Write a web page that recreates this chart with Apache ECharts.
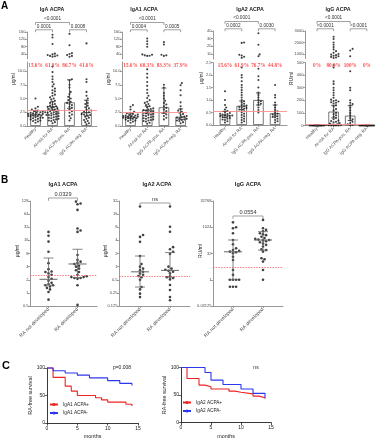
<!DOCTYPE html>
<html><head><meta charset="utf-8">
<script src="https://cdn.jsdelivr.net/npm/echarts@6.0.0/dist/echarts.min.js"></script>
<style>html,body{margin:0;padding:0;background:#fff}#chart{width:379px;height:440px}</style>
</head><body><div id="chart"></div>
<script>
// ================= DATA =================
const catsA = ['Healthy', 'At-risk for RA', 'IgG ACPA-pos. RA', 'IgG ACPA-neg. RA'];
const catsB = ['RA not developed', 'RA developed'];
const pairsA = [[0, 1, 1], [0, 2, 2], [2, 3, 1]]; // compared groups + bracket level

// Panel A – IgA ACPA (µg/ml)
const igaHealthy = [5.0, 3.5, 3.2, 3.0, 2.8, 2.7, 2.6, 2.5, 2.4, 2.4, 2.3, 2.2, 2.2, 2.1, 2.0, 2.0, 1.9, 1.9, 1.8, 1.8, 1.7, 1.6, 1.5, 1.5, 1.4, 1.3, 1.2, 1.1, 1.0, 0.9, 0.8, 0.6];
const igaAtRisk = [145, 130, 95, 42, 38, 35, 32, 30, 28, 25, 10.8, 9.8, 9.0, 8.5, 8.0, 7.6, 7.2, 6.8, 6.5, 6.3, 6.0, 5.7, 5.5, 5.2, 5.0, 4.8, 4.6, 4.4, 4.2, 4.0, 3.9, 3.7, 3.6, 3.5, 3.4, 3.3, 3.2, 3.1, 3.0, 2.9, 2.8, 2.7, 2.6, 2.5, 2.5, 2.4, 2.3, 2.3, 2.2, 2.1, 2.0, 2.0, 1.9, 1.8, 1.7, 1.6, 1.5, 1.4, 1.3, 1.2, 1.1, 1.0, 0.9, 0.7, 0.5];
const igaPos = [150, 88, 45, 40, 35, 30, 25, 8.5, 8.3, 7.5, 7.0, 6.2, 5.8, 5.3, 5.0, 4.7, 4.4, 4.2, 4.0, 3.8, 3.5, 3.3, 3.0, 2.7, 2.4, 2.1, 1.8, 1.4, 1.0];
const igaNeg = [98, 8.5, 8.0, 6.2, 5.5, 5.0, 4.6, 4.2, 4.0, 3.7, 3.4, 3.2, 3.0, 2.8, 2.6, 2.5, 2.4, 2.2, 2.1, 2.0, 1.9, 1.7, 1.5, 1.3, 1.1, 0.9, 0.7, 0.5, 0.3];
const igaBar = [2.2, 3.6, 4.3, 2.5];
const igaErrLow = [1.8, 2.9, 3.2, 1.8];
const igaErrHigh = [2.7, 4.4, 8.4, 4.7];
const igaPct = ['15.6%', '61.9%', '86.7%', '41.6%'];
const igaP = ['0.0001', '<0.0001', '0.0008'];
const igaCutoff = 2.9;

// Panel A – IgA1 ACPA (µg/ml)
const iga1Healthy = [3.8, 3.5, 3.0, 2.6, 2.4, 2.3, 2.2, 2.1, 2.0, 1.9, 1.9, 1.8, 1.8, 1.7, 1.7, 1.6, 1.6, 1.5, 1.5, 1.4, 1.4, 1.3, 1.2, 1.1, 1.0, 0.9, 0.8, 0.6];
const iga1AtRisk = [125, 110, 95, 80, 38, 36, 33, 31, 30, 10.3, 9.5, 8.8, 8.0, 7.3, 6.6, 6.0, 5.5, 5.1, 4.7, 4.4, 4.2, 4.0, 3.8, 3.6, 3.4, 3.2, 3.1, 3.0, 2.9, 2.8, 2.7, 2.6, 2.5, 2.4, 2.3, 2.2, 2.1, 2.0, 1.9, 1.8, 1.7, 1.6, 1.5, 1.4, 1.3, 1.2, 1.1, 1.0, 0.9, 0.8, 0.6, 0.4];
const iga1Pos = [105, 92, 36, 33, 30, 7.5, 7.0, 6.0, 5.5, 5.0, 4.6, 4.2, 3.9, 3.6, 3.3, 3.0, 2.7, 2.4, 2.1, 1.8, 1.5, 1.2];
const iga1Neg = [7.8, 7.4, 6.5, 5.6, 4.3, 3.6, 3.1, 2.8, 2.6, 2.4, 2.2, 2.0, 1.8, 1.7, 1.6, 1.5, 1.4, 1.3, 1.2, 1.1, 1.0, 0.9, 0.7, 0.5];
const iga1Bar = [1.7, 2.9, 3.4, 1.7];
const iga1ErrLow = [1.4, 2.3, 2.3, 1.2];
const iga1ErrHigh = [2.2, 3.6, 6.9, 3.1];
const iga1Pct = ['15.6%', '60.3%', '83.3%', '37.9%'];
const iga1P = ['0.0004', '<0.0001', '0.0005'];
const iga1Cutoff = 2.5;

// Panel A – IgA2 ACPA (µg/ml)
const iga2Healthy = [1.35, 1.0, 0.8, 0.7, 0.62, 0.56, 0.52, 0.48, 0.45, 0.44, 0.42, 0.4, 0.38, 0.37, 0.36, 0.34, 0.32, 0.3, 0.28, 0.25, 0.22, 0.2, 0.15, 0.1];
const iga2AtRisk = [25, 24.5, 9, 8, 6.5, 5, 2.3, 2.0, 1.9, 1.75, 1.6, 1.5, 1.4, 1.3, 1.2, 1.1, 1.0, 0.95, 0.9, 0.85, 0.8, 0.78, 0.75, 0.72, 0.7, 0.68, 0.65, 0.62, 0.6, 0.55, 0.5, 0.45, 0.4, 0.35, 0.3, 0.25, 0.2, 0.15, 0.1];
const iga2Pos = [37, 22, 9.5, 7, 2.25, 1.95, 1.8, 1.5, 1.3, 1.2, 1.1, 1.0, 0.95, 0.9, 0.85, 0.8, 0.7, 0.6, 0.5];
const iga2Neg = [1.6, 1.2, 1.1, 0.9, 0.8, 0.7, 0.6, 0.55, 0.5, 0.45, 0.42, 0.4, 0.35, 0.32, 0.3, 0.25, 0.2, 0.15, 0.1];
const iga2Bar = [0.4, 0.77, 1.0, 0.47];
const iga2ErrLow = [0.3, 0.62, 0.8, 0.35];
const iga2ErrHigh = [0.55, 0.96, 1.28, 0.8];
const iga2Pct = ['15.6%', '61.9%', '76.7%', '44.8%'];
const iga2P = ['0.0002', '<0.0001', '0.0030'];
const iga2Cutoff = 0.57;

// Panel A – IgG ACPA (RU/ml)
const iggHealthy = [3, 2, 2, 2, 1, 1, 1, 1, 1, 0, 0, 0, 0, 0, 0, 0, 0, 0, 0, 0];
const iggAtRisk = [2500, 2300, 2000, 1800, 1600, 1400, 1250, 1100, 1000, 950, 900, 850, 800, 750, 700, 650, 480, 460, 350, 330, 300, 280, 260, 240, 220, 205, 200, 195, 190, 185, 180, 175, 160, 150, 130, 120, 100, 90, 80, 70, 60, 50, 40, 35, 30, 25, 20, 15, 10, 8, 6, 4, 2, 1, 0, 0, 0, 0];
const iggPos = [1450, 1300, 800, 430, 300, 280, 200, 180, 170, 160, 140, 120, 100, 80, 60, 50, 40, 30, 20, 10, 5, 2];
const iggNeg = [2, 1, 1, 1, 0, 0, 0, 0, 0, 0, 0, 0, 0, 0, 0, 0, 0, 0];
const iggBar = [1, 110, 78, 0.5];
const iggErrLow = [0, 60, 40, 0];
const iggErrHigh = [2, 160, 157, 1];
const iggPct = ['0%', '80.9%', '100%', '0%'];
const iggP = ['<0.0001', '<0.0001', '<0.0001'];
const iggCutoff = 8;

// axis ticks, panel A
const ticksUgLow = [0, 2.5, 5, 7.5, 10];
const ticksUgUp = [40, 80, 120, 160];
const ticksA2Low = [0, 0.5, 1, 1.5, 2, 2.5];
const ticksA2Up = [10, 20, 30, 40];
const ticksRuLow = [0, 100, 200, 300, 400, 500];
const ticksRuUp = [1000, 2000, 3000];

// Panel B – IgA1 ACPA (µg/ml, log2 axis)
const bIga1No = [25, 20.5, 15, 8.8, 4.8, 3.5, 3.1, 3.0, 2.8, 2.6, 2.3, 2.1, 1.9, 1.7, 1.6, 1.5, 1.5, 1.4, 1.3, 1.2, 1.05, 0.7];
const bIga1Yes = [124, 112, 108, 80, 30, 27, 25, 7.4, 5.7, 5.2, 4.9, 4.6, 4.2, 4.0, 3.6, 3.3, 3.0, 2.6, 2.4, 2.3, 2.3, 2.2, 2.2, 2.1, 1.5, 0.53];
const bIga1Med = [2.05, 4.6];
const bIga1Lo = [1.5, 2.25];
const bIga1Hi = [6.3, 10];
const bIga1Cutoff = 2.5;
const bIga1P = ['0.0329'];
// Panel B – IgA2 ACPA
const bIga2No = [24, 5.3, 4.8, 3.7, 1.75, 1.15, 1.0, 0.9, 0.83, 0.76, 0.7, 0.65, 0.61, 0.57, 0.5, 0.34, 0.3, 0.24, 0.2];
const bIga2Yes = [24, 8.2, 6.3, 2.8, 2.5, 2.2, 1.95, 1.0, 0.9, 0.85, 0.8, 0.76, 0.7, 0.6, 0.57, 0.55, 0.51, 0.38, 0.29, 0.2, 0.17];
const bIga2Med = [0.76, 0.82];
const bIga2Lo = [0.34, 0.57];
const bIga2Hi = [1.75, 2.1];
const bIga2Cutoff = 0.6;
const bIga2P = ['ns'];
// Panel B – IgG ACPA (RU/ml)
const bIggNo = [1960, 1024, 900, 460, 190, 108, 63, 51, 45, 41, 38, 33, 21, 13.6, 3.6, 1.9, 1, 1, 1, 1, 0.4, 0.4, 0.4];
const bIggYes = [2700, 900, 720, 600, 460, 400, 360, 290, 250, 220, 200, 190, 180, 160, 140, 120, 100, 80, 56, 50, 41, 17, 15, 11, 3.6, 1];
const bIggMed = [40, 190];
const bIggLo = [1, 50];
const bIggHi = [190, 570];
const bIggCutoff = 5;
const bIggP = ['0.0554'];

// Panel C – RA-free survival (%), months
const c1PosT = [0, 1, 3, 4, 5, 8, 9, 10, 13, 14];
const c1PosS = [100, 83, 67, 58, 50, 46, 42, 38, 34, 31];
const c1NegT = [0, 1, 3, 5, 7, 10, 12, 14];
const c1NegS = [100, 95, 91, 87, 82, 77, 72, 68];
const c2PosT = [0, 1, 3, 4, 5, 8, 9, 10, 12, 13, 14];
const c2PosS = [100, 80, 68, 65, 61, 57, 55, 52, 48, 45, 43];
const c2NegT = [0, 4, 5, 7, 10, 12, 14];
const c2NegS = [100, 91, 77, 69, 61, 53, 45];

// ================= BUILD =================
const F = '"Liberation Sans", Arial, sans-serif';
const AX = '#7d7d7d', TX = '#4a4a4a', RED = '#ee2424', BLUE = '#2b38ef';
const option = {animation: false, backgroundColor: '#ffffff', textStyle: {fontFamily: F},
  grid: [], xAxis: [], yAxis: [], series: [], legend: [], graphic: []};

function label(t, x, y, fs, opt) {
  opt = opt || {};
  option.graphic.push({type: 'text', x: x, y: y, silent: true, rotation: opt.rot || 0,
    style: {text: t, fontSize: fs, fontFamily: opt.family || F, fontWeight: opt.weight || 'normal',
      fill: opt.color || '#222', align: opt.align || 'center', verticalAlign: 'middle',
      textAlign: opt.align || 'center', textVerticalAlign: 'middle'}});
}

// simple deterministic bee-swarm layout (px offsets -> category units)
function swarm(vals, toPx, bandPx, d) {
  const order = vals.map((v, i) => i).sort((a, b) => vals[a] - vals[b]);
  const placed = [], off = new Array(vals.length).fill(0);
  const maxOff = bandPx * 0.46, step = d * 0.55;
  const cands = [0];
  for (let k = 1; k * step <= maxOff; k++) cands.push(k * step, -k * step);
  for (const i of order) {
    const y = toPx(vals[i]);
    let best = 0, bestScore = -1;
    for (const c of cands) {
      let md = Infinity;
      for (const q of placed) { const dd = Math.hypot(q[0] - c, q[1] - y); if (dd < md) md = dd; }
      if (md >= d) { best = c; break; }
      if (md > bestScore) { bestScore = md; best = c; }
    }
    placed.push([best, y]);
    off[i] = best / bandPx;
  }
  return off;
}

function yAx(grid, o) {
  const ax = {type: 'value', gridIndex: grid, min: o.min, max: o.max,
    axisLine: {show: true, onZero: false, lineStyle: {color: o.color || AX, width: o.lw || 0.8}},
    axisTick: {show: true, length: o.tl || 2, lineStyle: {color: o.color || AX, width: 0.7}},
    axisLabel: {fontSize: o.fs || 4, color: o.tc || TX, margin: o.margin || 1.5, fontFamily: F, formatter: o.fmt},
    splitLine: {show: false}};
  if (o.ticks) { ax.axisTick.customValues = o.ticks; ax.axisLabel.customValues = o.ticks; }
  if (o.interval) ax.interval = o.interval;
  option.yAxis.push(ax);
  return option.yAxis.length - 1;
}

function catXAxis(grid, cats, min, max, fs) {
  const idx = cats.map((_, i) => i);
  option.xAxis.push({type: 'value', gridIndex: grid, min: min, max: max,
    axisLine: {show: true, onZero: false, lineStyle: {color: AX, width: 0.8}},
    axisTick: {show: true, length: 2, customValues: idx, lineStyle: {color: AX, width: 0.7}},
    axisLabel: {show: true, customValues: idx, formatter: v => cats[Math.round(v)], rotate: 45,
      fontSize: fs, color: TX, margin: 2.5, fontFamily: F},
    splitLine: {show: false}});
  return option.xAxis.length - 1;
}

function dots(xi, yi, pts, size) {
  option.series.push({type: 'scatter', xAxisIndex: xi, yAxisIndex: yi, data: pts, symbolSize: size,
    itemStyle: {color: '#111'}, silent: true, z: 4, clip: false});
}

function whiskers(xi, yi, rows, capW, medW, color) {
  option.series.push({type: 'custom', xAxisIndex: xi, yAxisIndex: yi, silent: true, z: 5, clip: false,
    data: rows,
    renderItem: (p, api) => {
      const i = api.value(0);
      const a = api.coord([i, api.value(1)]), b = api.coord([i, api.value(2)]);
      const x = a[0];
      const st = {stroke: color, lineWidth: 0.8};
      const ch = [
        {type: 'line', shape: {x1: x, y1: a[1], x2: x, y2: b[1]}, style: st},
        {type: 'line', shape: {x1: x - capW / 2, y1: a[1], x2: x + capW / 2, y2: a[1]}, style: st},
        {type: 'line', shape: {x1: x - capW / 2, y1: b[1], x2: x + capW / 2, y2: b[1]}, style: st}];
      if (medW) {
        const m = api.coord([i, api.value(3)]);
        ch.push({type: 'line', shape: {x1: x - medW / 2, y1: m[1], x2: x + medW / 2, y2: m[1]}, style: {stroke: color, lineWidth: 1}});
      }
      return {type: 'group', children: ch};
    }});
}

function brackets(xi, yi, rows, labels, base, stepPx, fs, tick) {
  option.series.push({type: 'custom', xAxisIndex: xi, yAxisIndex: yi, silent: true, z: 8, clip: false,
    data: rows.map(r => [r[0], r[1], r[2]]),
    renderItem: (p, api) => {
      const cs = p.coordSys;
      const x1 = api.coord([api.value(0), 0])[0], x2 = api.coord([api.value(1), 0])[0];
      const y = cs.y + base - (api.value(2) - 1) * stepPx;
      return {type: 'group', children: [
        {type: 'polyline', shape: {points: [[x1, y + tick], [x1, y], [x2, y], [x2, y + tick]]}, style: {stroke: '#7a7a7a', lineWidth: 0.7, fill: 'none'}},
        {type: 'text', x: (x1 + x2) / 2, y: y - 1, style: {text: labels[p.dataIndex], fill: '#333', fontSize: fs, fontFamily: F,
          align: 'center', verticalAlign: 'bottom', textAlign: 'center', textVerticalAlign: 'bottom'}}]};
    }});
}

// ---------- Panel A ----------
function buildA(c) {
  const xMin = -(c.c0 - c.axisX) / c.band, xMax = (c.right - c.c0) / c.band;
  const W = c.right - c.axisX;
  const gLow = option.grid.length;
  option.grid.push({left: c.axisX, top: c.lowTop, width: W, height: c.lowBot - c.lowTop});
  const gUp = gLow + 1;
  option.grid.push({left: c.axisX, top: c.upTop, width: W, height: c.upBot - c.upTop});
  const xLow = catXAxis(gLow, catsA, xMin, xMax, 4.4);
  const xUp = option.xAxis.length;
  option.xAxis.push({type: 'value', gridIndex: gUp, min: xMin, max: xMax, show: false});
  const yLow = yAx(gLow, {min: 0, max: c.lowMax, ticks: c.lowTicks, fmt: c.fmt});
  const yUp = yAx(gUp, {min: c.upMin, max: c.upMax, ticks: c.upTicks, fmt: v => String(v)});

  option.series.push({type: 'bar', xAxisIndex: xLow, yAxisIndex: yLow, barWidth: 10.5, silent: true, z: 2,
    data: c.bar.map((v, i) => [i, v]), itemStyle: {color: '#ffffff', borderColor: '#555', borderWidth: 0.8},
    markLine: {silent: true, symbol: ['none', 'none'], label: {show: false}, animation: false,
      lineStyle: {color: '#ff8f8f', width: 0.9, type: 'solid'}, data: [{yAxis: c.cut}]}});

  const hL = c.lowBot - c.lowTop, hU = c.upBot - c.upTop;
  const lowPts = [], upPts = [];
  c.groups.forEach((g, i) => {
    const lo = g.filter(v => v <= c.lowMax), up = g.filter(v => v > c.lowMax);
    swarm(lo, v => v / c.lowMax * hL, c.band, 2.2).forEach((o, k) => lowPts.push([i + o, lo[k]]));
    swarm(up, v => (v - c.upMin) / (c.upMax - c.upMin) * hU, c.band, 2.2).forEach((o, k) => upPts.push([i + o, up[k]]));
  });
  dots(xLow, yLow, lowPts, 2.1);
  dots(xUp, yUp, upPts, 2.1);
  whiskers(xLow, yLow, c.bar.map((v, i) => [i, c.lo[i], c.hi[i]]), 5, 0, '#333');
  brackets(xUp, yUp, pairsA, c.p, -2.2, 7.3, 4.7, 2.4);

  option.series.push({type: 'custom', xAxisIndex: xLow, yAxisIndex: yLow, silent: true, z: 9, clip: false,
    data: c.pct.map((s, i) => [i, 0]),
    renderItem: (p, api) => ({type: 'text', x: api.coord([api.value(0), 0])[0], y: p.coordSys.y + 3.6,
      style: {text: c.pct[p.dataIndex], fill: '#ff4d4d', fontSize: 5.2, fontFamily: '"Liberation Serif", "Times New Roman", serif', fontWeight: 'bold',
        align: 'center', verticalAlign: 'middle', textAlign: 'center', textVerticalAlign: 'middle'}})});

  label(c.title, c.tx, 10, 5.3, {weight: 'bold'});
  label(c.unit, c.unitX, (c.upTop + c.lowBot) / 2, 4.6, {rot: Math.PI / 2});
}

buildA({title: 'IgA ACPA', tx: 52, unit: 'µg/ml', unitX: 14, axisX: 27, right: 97, c0: 35.5, band: 17,
  lowTop: 62, lowBot: 126, upTop: 32, upBot: 59, lowMax: 11.64, upMin: 13, upMax: 160,
  lowTicks: ticksUgLow, upTicks: ticksUgUp, fmt: v => v.toFixed(1),
  groups: [igaHealthy, igaAtRisk, igaPos, igaNeg], bar: igaBar, lo: igaErrLow, hi: igaErrHigh, pct: igaPct, p: igaP, cut: igaCutoff});
buildA({title: 'IgA1 ACPA', tx: 144, unit: 'µg/ml', unitX: 109, axisX: 122, right: 187, c0: 130.5, band: 16.7,
  lowTop: 62, lowBot: 126, upTop: 32, upBot: 59, lowMax: 11.64, upMin: 13, upMax: 160,
  lowTicks: ticksUgLow, upTicks: ticksUgUp, fmt: v => v.toFixed(1),
  groups: [iga1Healthy, iga1AtRisk, iga1Pos, iga1Neg], bar: iga1Bar, lo: iga1ErrLow, hi: iga1ErrHigh, pct: iga1Pct, p: iga1P, cut: iga1Cutoff});
buildA({title: 'IgA2 ACPA', tx: 250, unit: 'µg/ml', unitX: 202, axisX: 213, right: 287, c0: 225, band: 16.7,
  lowTop: 62.5, lowBot: 125, upTop: 31, upBot: 59, lowMax: 2.5, upMin: 3.5, upMax: 40,
  lowTicks: ticksA2Low, upTicks: ticksA2Up, fmt: v => v.toFixed(1),
  groups: [iga2Healthy, iga2AtRisk, iga2Pos, iga2Neg], bar: iga2Bar, lo: iga2ErrLow, hi: iga2ErrHigh, pct: iga2Pct, p: iga2P, cut: iga2Cutoff});
buildA({title: 'IgG ACPA', tx: 338, unit: 'RU/ml', unitX: 292, axisX: 305, right: 372, c0: 317, band: 16.6,
  lowTop: 62.5, lowBot: 125.5, upTop: 31, upBot: 58.5, lowMax: 500, upMin: 609, upMax: 3000,
  lowTicks: ticksRuLow, upTicks: ticksRuUp, fmt: v => String(v),
  groups: [iggHealthy, iggAtRisk, iggPos, iggNeg], bar: iggBar, lo: iggErrLow, hi: iggErrHigh, pct: iggPct, p: iggP, cut: iggCutoff});

// ---------- Panel B ----------
function buildB(c) {
  const top = 201, H = 105;
  const xMin = -(c.c0 - c.axisX) / c.band, xMax = (c.right - c.c0) / c.band;
  const g = option.grid.length;
  option.grid.push({left: c.axisX, top: top, width: c.right - c.axisX, height: H});
  const xi = catXAxis(g, catsB, xMin, xMax, 5);
  const yi = yAx(g, {min: c.min, max: c.max, interval: c.interval,
    fmt: v => String(parseFloat(Math.pow(2, v).toPrecision(6)))});
  const L = v => Math.log2(v);
  const pts = [];
  c.groups.forEach((gr, i) => {
    swarm(gr, v => (L(v) - c.min) / (c.max - c.min) * H, c.band, 2.8).forEach((o, k) => pts.push([i + o, L(gr[k])]));
  });
  option.series.push({type: 'scatter', xAxisIndex: xi, yAxisIndex: yi, data: pts, symbolSize: 2.6,
    itemStyle: {color: '#111'}, silent: true, z: 4, clip: false,
    markLine: {silent: true, symbol: ['none', 'none'], label: {show: false}, animation: false,
      lineStyle: {color: '#ff5a5a', width: 0.8, type: [1.5, 1.2]}, data: [{yAxis: L(c.cut)}]}});
  whiskers(xi, yi, c.med.map((m, i) => [i, L(c.lo[i]), L(c.hi[i]), L(m)]), 10, 18, '#666');
  brackets(xi, yi, [[0, 1, 1]], c.p, c.bBase, 0, 5.6, 2.8);
  label(c.title, c.tx, 184.5, 5.6, {weight: 'bold'});
  label(c.unit, c.unitX, 251, 5, {rot: Math.PI / 2});
}
buildB({title: 'IgA1 ACPA', tx: 63, unit: 'µg/ml', unitX: 18, axisX: 30, right: 97, c0: 48.5, band: 29,
  min: -1, max: 7, interval: 1, groups: [bIga1No, bIga1Yes], med: bIga1Med, lo: bIga1Lo, hi: bIga1Hi, cut: bIga1Cutoff, p: bIga1P, bBase: -3});
buildB({title: 'IgA2 ACPA', tx: 157, unit: 'µg/ml', unitX: 106, axisX: 119, right: 190, c0: 140, band: 30,
  min: -3, max: 5, interval: 1, groups: [bIga2No, bIga2Yes], med: bIga2Med, lo: bIga2Lo, hi: bIga2Hi, cut: bIga2Cutoff, p: bIga2P, bBase: 2});
buildB({title: 'IgG ACPA', tx: 248, unit: 'RU/ml', unitX: 201, axisX: 213, right: 283, c0: 233, band: 30,
  min: -5, max: 15, interval: 5, groups: [bIggNo, bIggYes], med: bIggMed, lo: bIggLo, hi: bIggHi, cut: bIggCutoff, p: bIggP, bBase: 15});

// ---------- Panel C ----------
function buildC(c) {
  const g = option.grid.length;
  option.grid.push({left: c.axisX, top: c.top, width: c.width, height: 55});
  const xi = option.xAxis.length;
  option.xAxis.push({type: 'value', gridIndex: g, min: 0, max: 15, interval: 5,
    axisLine: {show: true, onZero: false, lineStyle: {color: '#222', width: 0.9}},
    axisTick: {show: true, length: 2.5, lineStyle: {color: '#222', width: 0.8}},
    axisLabel: {fontSize: 5, color: '#222', margin: 3, fontFamily: F}, splitLine: {show: false}});
  const yi = yAx(g, {min: 0, max: 100, interval: 50, color: '#222', lw: 0.9, tl: 2.5, fs: 5, tc: '#222', margin: 2,
    fmt: v => String(v)});
  c.curves.forEach(cv => option.series.push({type: 'line', name: cv.name, xAxisIndex: xi, yAxisIndex: yi,
    step: 'end', symbol: 'none', clip: false, silent: true, z: 3,
    data: cv.t.map((t, k) => [t, cv.s[k]]), lineStyle: {color: cv.color, width: 1.1}, itemStyle: {color: cv.color}}));
  option.legend.push({left: c.legX, top: c.legY, orient: 'vertical', itemWidth: 8, itemHeight: 4, itemGap: 3.5, padding: 0,
    selectedMode: false, data: c.curves.map(cv => cv.name), textStyle: {fontSize: 4.7, color: '#222', fontFamily: F}});
  label('RA-free survival', c.unitX, c.top + 27.5, 5.4, {rot: Math.PI / 2});
  label('months', c.axisX + c.width / 2, 437, 5.4);
  label(c.note, c.noteX, 367.5, 5);
}
buildC({axisX: 47, top: 368, width: 91, unitX: 31, legX: 49, legY: 402, note: 'p=0.008', noteX: 122,
  curves: [{name: 'IgA1 ACPA+', t: c1PosT, s: c1PosS, color: RED}, {name: 'IgA1 ACPA-', t: c1NegT, s: c1NegS, color: BLUE}]});
buildC({axisX: 181, top: 367.5, width: 90, unitX: 165, legX: 182, legY: 400, note: 'ns', noteX: 256,
  curves: [{name: 'IgA2 ACPA+', t: c2PosT, s: c2PosS, color: RED}, {name: 'IgA2 ACPA-', t: c2NegT, s: c2NegS, color: BLUE}]});

// panel letters
label('A', 1, 6, 10, {weight: 'bold', align: 'left', color: '#000'});
label('B', 1, 180.5, 10, {weight: 'bold', align: 'left', color: '#000'});
label('C', 2, 366, 11, {weight: 'bold', align: 'left', color: '#000'});

const chart = echarts.init(document.getElementById('chart'), null, {renderer: 'canvas'});
chart.setOption(option);
</script></body></html>
